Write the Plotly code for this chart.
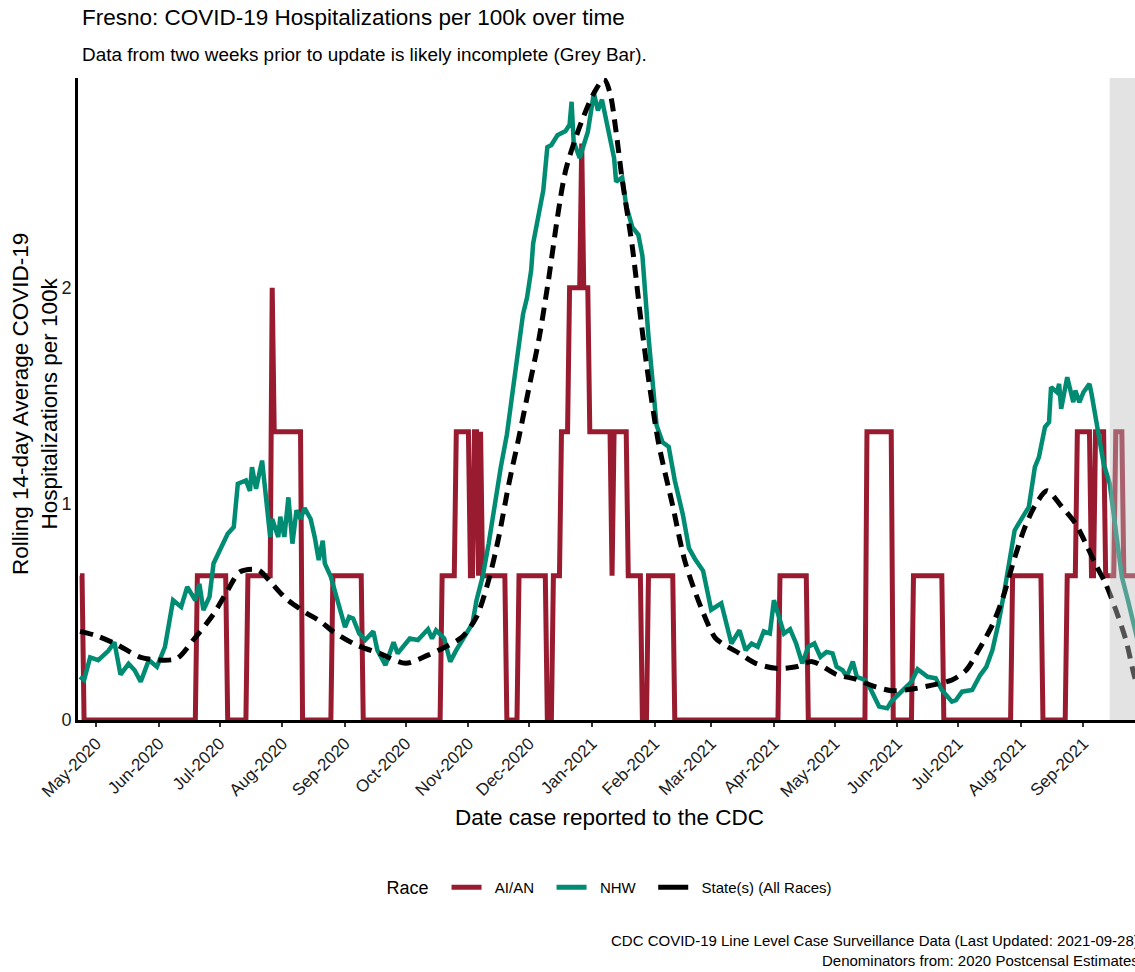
import pandas as pd
import plotly.graph_objects as go

# ---------------- data ----------------
month_ticks = ["2020-05-01", "2020-06-01", "2020-07-01", "2020-08-01", "2020-09-01", "2020-10-01",
               "2020-11-01", "2020-12-01", "2021-01-01", "2021-02-01", "2021-03-01", "2021-04-01",
               "2021-05-01", "2021-06-01", "2021-07-01", "2021-08-01", "2021-09-01"]
month_labels = ["May-2020", "Jun-2020", "Jul-2020", "Aug-2020", "Sep-2020", "Oct-2020",
                "Nov-2020", "Dec-2020", "Jan-2021", "Feb-2021", "Mar-2021", "Apr-2021",
                "May-2021", "Jun-2021", "Jul-2021", "Aug-2021", "Sep-2021"]

# AI/AN: rolling average changes (date the value starts, value)
aian_change_dates = ["2020-04-23", "2020-04-25", "2020-06-20", "2020-07-05", "2020-07-15", "2020-07-27",
                     "2020-07-28", "2020-08-11", "2020-08-26", "2020-09-10", "2020-10-19", "2020-10-26",
                     "2020-11-02", "2020-11-04", "2020-11-06", "2020-11-07", "2020-11-08", "2020-11-20",
                     "2020-11-26", "2020-12-10", "2020-12-13", "2020-12-17", "2020-12-21", "2020-12-27",
                     "2020-12-28", "2020-12-31", "2021-01-11", "2021-01-12", "2021-01-19", "2021-01-26",
                     "2021-01-29", "2021-02-11", "2021-04-04", "2021-04-18", "2021-05-17", "2021-05-30",
                     "2021-06-09", "2021-06-24", "2021-07-28", "2021-08-12", "2021-08-24", "2021-08-29",
                     "2021-09-05", "2021-09-07", "2021-09-12", "2021-09-17", "2021-09-21"]
aian_change_values = [0.667, 0, 0.667, 0, 0.667, 2.0,
                      1.333, 0, 0.667, 0, 0.667, 1.333,
                      0.667, 1.333, 0.667, 1.333, 0.667, 0,
                      0.667, 0, 0.667, 1.333, 2.0, 2.667,
                      2.0, 1.333, 0.667, 1.333, 0.667, 0,
                      0.667, 0, 0.667, 0, 1.333, 0,
                      0.667, 0, 0.667, 0, 0.667, 1.333,
                      0.667, 1.333, 0.667, 1.333, 0.667]
series_start = "2020-04-23"
series_end = "2021-09-28"

nhw_dates = ["2020-04-23", "2020-04-25", "2020-04-28", "2020-05-02", "2020-05-07", "2020-05-10", "2020-05-13",
             "2020-05-17", "2020-05-20", "2020-05-23", "2020-05-27", "2020-05-31", "2020-06-04", "2020-06-08",
             "2020-06-12", "2020-06-15", "2020-06-19", "2020-06-21", "2020-06-23", "2020-06-26", "2020-06-28",
             "2020-07-02", "2020-07-05", "2020-07-08", "2020-07-10", "2020-07-14", "2020-07-16", "2020-07-17",
             "2020-07-19", "2020-07-22", "2020-07-24", "2020-07-26", "2020-07-27", "2020-07-30", "2020-07-31",
             "2020-08-02", "2020-08-04", "2020-08-06", "2020-08-08", "2020-08-10", "2020-08-12", "2020-08-15",
             "2020-08-17", "2020-08-19", "2020-08-21", "2020-08-22", "2020-08-25", "2020-08-28", "2020-09-01",
             "2020-09-03", "2020-09-05", "2020-09-08", "2020-09-11", "2020-09-15", "2020-09-17", "2020-09-21",
             "2020-09-25", "2020-09-27", "2020-10-03", "2020-10-07", "2020-10-12", "2020-10-14", "2020-10-16",
             "2020-10-20", "2020-10-23", "2020-10-26", "2020-10-30", "2020-11-03", "2020-11-05", "2020-11-08",
             "2020-11-11", "2020-11-14", "2020-11-17", "2020-11-20", "2020-11-24", "2020-11-28", "2020-11-30",
             "2020-12-02", "2020-12-03", "2020-12-06", "2020-12-08", "2020-12-10", "2020-12-12", "2020-12-15",
             "2020-12-19", "2020-12-21", "2020-12-22", "2020-12-23", "2020-12-26", "2020-12-28", "2020-12-30",
             "2021-01-02", "2021-01-04", "2021-01-06", "2021-01-09", "2021-01-12", "2021-01-13", "2021-01-16",
             "2021-01-18", "2021-01-21", "2021-01-24", "2021-01-26", "2021-01-29", "2021-02-02", "2021-02-05",
             "2021-02-08", "2021-02-11", "2021-02-15", "2021-02-18", "2021-02-21", "2021-02-25", "2021-03-01",
             "2021-03-06", "2021-03-11", "2021-03-15", "2021-03-18", "2021-03-21", "2021-03-24", "2021-03-27",
             "2021-03-30", "2021-04-01", "2021-04-03", "2021-04-06", "2021-04-09", "2021-04-12", "2021-04-15",
             "2021-04-18", "2021-04-21", "2021-04-24", "2021-04-27", "2021-04-30", "2021-05-02", "2021-05-05",
             "2021-05-07", "2021-05-10", "2021-05-12", "2021-05-16", "2021-05-19", "2021-05-23", "2021-05-27",
             "2021-05-29", "2021-06-03", "2021-06-08", "2021-06-11", "2021-06-16", "2021-06-20", "2021-06-23",
             "2021-06-28", "2021-06-30", "2021-07-03", "2021-07-08", "2021-07-12", "2021-07-15", "2021-07-18",
             "2021-07-21", "2021-07-24", "2021-07-27", "2021-07-29", "2021-08-02", "2021-08-05", "2021-08-08",
             "2021-08-10", "2021-08-13", "2021-08-15", "2021-08-16", "2021-08-19", "2021-08-20", "2021-08-21",
             "2021-08-24", "2021-08-27", "2021-08-28", "2021-08-30", "2021-09-01", "2021-09-04", "2021-09-05",
             "2021-09-08", "2021-09-11", "2021-09-14", "2021-09-17", "2021-09-20", "2021-09-23", "2021-09-26",
             "2021-09-28"]
nhw_values = [0.20, 0.185, 0.29, 0.277, 0.32, 0.36, 0.21,
              0.26, 0.23, 0.177, 0.277, 0.246, 0.339, 0.554,
              0.523, 0.616, 0.554, 0.63, 0.508, 0.57, 0.724,
              0.80, 0.862, 0.893, 1.093, 1.108, 1.06, 1.17,
              1.07, 1.20, 1.00, 0.847, 0.93, 0.847, 0.94,
              0.847, 1.03, 0.816, 0.97, 0.93, 0.98, 0.93,
              0.847, 0.74, 0.83, 0.724, 0.662, 0.554, 0.43,
              0.477, 0.47, 0.40, 0.37, 0.41, 0.323, 0.254,
              0.36, 0.308, 0.377, 0.37, 0.42, 0.377, 0.415,
              0.377, 0.27, 0.323, 0.385, 0.447, 0.554, 0.662,
              0.816, 1.00, 1.17, 1.32, 1.617, 1.878, 1.955,
              2.08, 2.205, 2.36, 2.45, 2.65, 2.66, 2.705,
              2.725, 2.754, 2.86, 2.676, 2.60, 2.66, 2.72,
              2.90, 2.82, 2.87, 2.73, 2.60, 2.49, 2.51,
              2.38, 2.28, 2.245, 2.147, 1.774, 1.363, 1.284,
              1.264, 1.108, 0.95, 0.795, 0.745, 0.69, 0.51,
              0.54, 0.354, 0.415, 0.323, 0.354, 0.339, 0.41,
              0.40, 0.554, 0.49, 0.40, 0.42, 0.354, 0.262,
              0.339, 0.354, 0.292, 0.315, 0.308, 0.246, 0.23,
              0.20, 0.27, 0.20, 0.185, 0.139, 0.062, 0.054,
              0.085, 0.131, 0.177, 0.235, 0.20, 0.193, 0.139,
              0.085, 0.092, 0.131, 0.139, 0.208, 0.246, 0.323,
              0.447, 0.60, 0.77, 0.877, 0.94, 0.985, 1.17,
              1.216, 1.355, 1.378, 1.54, 1.516, 1.555, 1.44,
              1.586, 1.47, 1.524, 1.47, 1.516, 1.555, 1.51,
              1.355, 1.186, 1.093, 0.877, 0.662, 0.554, 0.43,
              0.36]

state_dates = ["2020-04-23", "2020-05-01", "2020-05-11", "2020-05-23", "2020-06-02", "2020-06-10", "2020-06-18",
               "2020-06-28", "2020-07-05", "2020-07-11", "2020-07-20", "2020-07-26", "2020-08-03", "2020-08-12",
               "2020-08-20", "2020-08-26", "2020-09-06", "2020-09-18", "2020-10-01", "2020-10-12", "2020-10-21",
               "2020-10-29", "2020-11-05", "2020-11-11", "2020-11-16", "2020-11-21", "2020-11-26", "2020-12-01",
               "2020-12-06", "2020-12-10", "2020-12-19", "2020-12-27", "2021-01-02", "2021-01-07", "2021-01-10",
               "2021-01-13", "2021-01-16", "2021-01-21", "2021-01-25", "2021-01-29", "2021-02-03", "2021-02-10",
               "2021-02-16", "2021-02-24", "2021-03-03", "2021-03-08", "2021-03-15", "2021-03-23", "2021-04-02",
               "2021-04-12", "2021-04-20", "2021-05-02", "2021-05-11", "2021-05-21", "2021-05-30", "2021-06-10",
               "2021-06-20", "2021-06-28", "2021-07-05", "2021-07-11", "2021-07-18", "2021-07-23", "2021-07-29",
               "2021-08-03", "2021-08-08", "2021-08-14", "2021-08-21", "2021-08-28", "2021-09-03", "2021-09-07",
               "2021-09-12", "2021-09-17", "2021-09-22", "2021-09-26", "2021-09-28"]
state_values = [0.41, 0.39, 0.35, 0.29, 0.277, 0.285, 0.37,
                0.49, 0.60, 0.685, 0.695, 0.64, 0.56, 0.50,
                0.455, 0.41, 0.35, 0.308, 0.262, 0.30, 0.34,
                0.385, 0.477, 0.647, 0.847, 1.093, 1.31, 1.54,
                1.77, 2.0, 2.54, 2.77, 2.90, 2.965, 2.90,
                2.72, 2.50, 2.19, 1.87, 1.58, 1.28, 0.99,
                0.735, 0.52, 0.38, 0.345, 0.308, 0.262, 0.239,
                0.246, 0.27, 0.21, 0.19, 0.154, 0.135, 0.146,
                0.165, 0.185, 0.23, 0.32, 0.44, 0.56, 0.75,
                0.89, 0.99, 1.06, 0.99, 0.91, 0.80, 0.72,
                0.63, 0.51, 0.37, 0.21, 0.15]

incomplete_start = "2021-09-14"
incomplete_end = "2021-09-28"

# ---------------- build ----------------
RED = "#981B30"
GREEN = "#008B73"
FONT = "Liberation Sans, Arial, sans-serif"
NB = "\u00a0"

days = pd.date_range(series_start, series_end, freq="D")
aian = (pd.Series(aian_change_values, index=pd.to_datetime(aian_change_dates))
        .reindex(days, method="ffill"))

fig = go.Figure()
fig.add_trace(go.Scatter(x=aian.index, y=aian.values, mode="lines",
                         line=dict(color=RED, width=5), showlegend=False, hoverinfo="skip"))
fig.add_trace(go.Scatter(x=pd.to_datetime(nhw_dates), y=nhw_values, mode="lines",
                         line=dict(color=GREEN, width=4.5), showlegend=False, hoverinfo="skip"))
fig.add_trace(go.Scatter(x=pd.to_datetime(state_dates), y=state_values, mode="lines",
                         line=dict(color="black", width=5, dash="13px,8px", shape="spline", smoothing=0.8),
                         showlegend=False, hoverinfo="skip"))

# legend-only entries (solid keys as in reference)
for name, col in [("AI/AN", RED), ("NHW", GREEN), ("State(s) (All Races)", "black")]:
    fig.add_trace(go.Scatter(x=[None], y=[None], mode="lines", name=NB * 2 + name + NB * 3,
                             line=dict(color=col, width=5)))

fig.add_shape(type="rect", xref="x", yref="paper", x0=incomplete_start, x1=incomplete_end,
              y0=0, y1=1, fillcolor="rgba(190,190,190,0.43)", line=dict(width=0), layer="above")

W, H = 1135, 972
ml, mr, mt, mb = 78, 0, 78, 252
pw, ph = W - ml - mr, H - mt - mb


def px_x(x):
    return (x - ml) / pw


def px_y(y):
    return (H - mb - y) / ph


annotations = [
    dict(text="Fresno: COVID-19 Hospitalizations per 100k over time", x=px_x(80), y=px_y(18),
         xanchor="left", yanchor="middle", font=dict(size=22.5, color="black")),
    dict(text="Data from two weeks prior to update is likely incomplete (Grey Bar).", x=px_x(80), y=px_y(55),
         xanchor="left", yanchor="middle", font=dict(size=18.9, color="black")),
    dict(text="Rolling 14-day Average COVID-19<br>Hospitalizations per 100k", x=px_x(35), y=px_y(404),
         xanchor="center", yanchor="middle", textangle=-90, font=dict(size=22.5, color="black")),
    dict(text="Date case reported to the CDC", x=px_x(609), y=px_y(818),
         xanchor="center", yanchor="middle", font=dict(size=22.5, color="black")),
    dict(text="CDC COVID-19 Line Level Case Surveillance Data (Last Updated: 2021-09-28)<br>"
              "Denominators from: 2020 Postcensal Estimates",
         x=px_x(1141), y=px_y(950), xanchor="right", yanchor="middle", align="right",
         font=dict(size=15, color="black")),
]
for a in annotations:
    a.update(xref="paper", yref="paper", showarrow=False)

fig.update_layout(
    width=W, height=H,
    margin=dict(l=ml, r=mr, t=mt, b=mb, pad=0),
    paper_bgcolor="white", plot_bgcolor="white",
    font=dict(family=FONT, color="black"),
    annotations=annotations,
    xaxis=dict(range=["2020-04-22", "2021-09-26 12:00"], tickvals=month_ticks, ticktext=month_labels,
               tickangle=-45, tickfont=dict(size=17, color="#1a1a1a"), ticks="outside", ticklen=4,
               tickwidth=1.5, tickcolor="#333333", showline=True, linecolor="black", linewidth=3,
               showgrid=False, zeroline=False),
    yaxis=dict(range=[0, 2.97], tickvals=[0, 1, 2], ticktext=["0", "1", "2"],
               tickfont=dict(size=18, color="#1a1a1a"), ticks="", showline=True, linecolor="black",
               linewidth=3, showgrid=False, zeroline=False),
    legend=dict(orientation="h", x=px_x(617), xanchor="center", y=px_y(888), yanchor="middle",
                title=dict(text="Race" + NB * 2, font=dict(size=18)), font=dict(size=15),
                bgcolor="rgba(0,0,0,0)"),
    showlegend=True,
)

fig.write_html("out.html", config={"displayModeBar": False},
               post_script="document.body.style.margin='0';document.body.style.overflow='hidden';")
